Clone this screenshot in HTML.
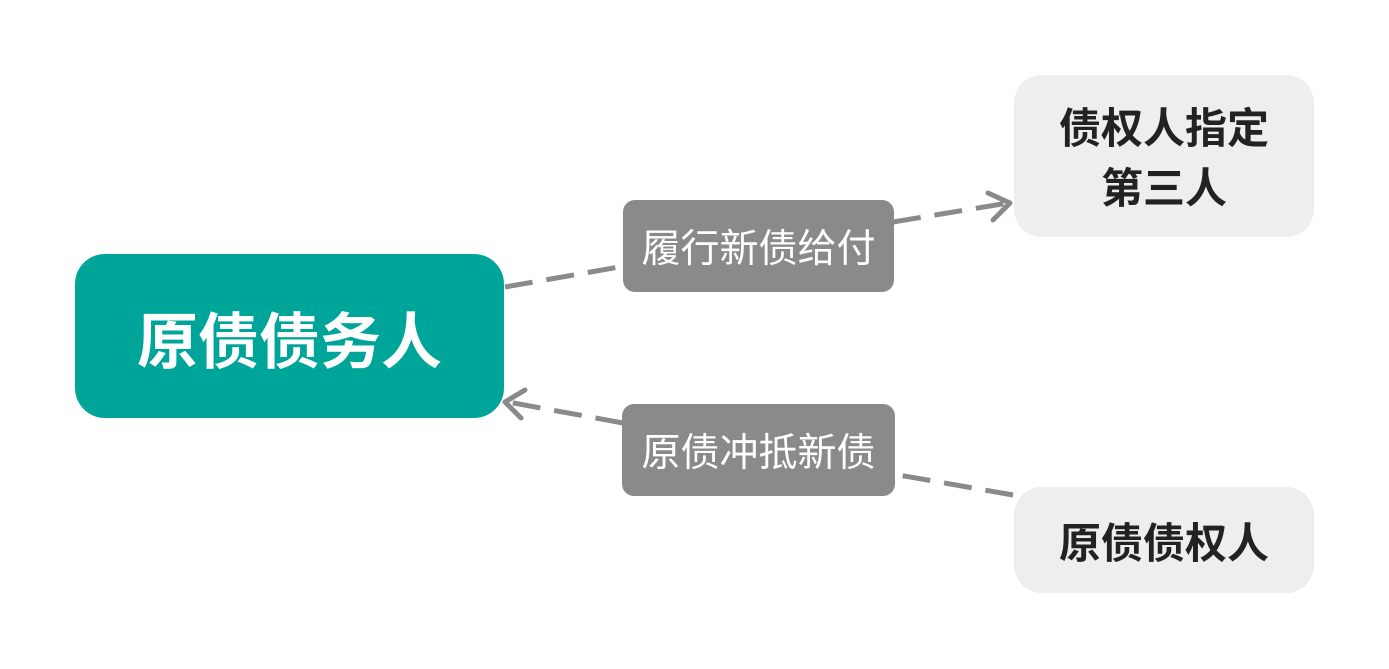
<!DOCTYPE html>
<html><head><meta charset="utf-8"><style>
body{margin:0;width:1389px;height:669px;background:#fff;position:relative;overflow:hidden;font-family:"Liberation Sans","Noto Sans CJK SC",sans-serif;}
.b{position:absolute;display:flex;align-items:center;justify-content:center;text-align:center;}
</style></head><body>
<svg width="1389" height="669" style="position:absolute;left:0;top:0">
<g stroke="#8a8a8a" stroke-width="5" fill="none" stroke-dasharray="28,14">
<line x1="505" y1="287" x2="625" y2="266"/>
<line x1="893" y1="222" x2="1008" y2="203"/>
<line x1="1013" y1="495" x2="893" y2="474"/>
<line x1="623" y1="423" x2="508" y2="402"/>
</g>
<g stroke="#8a8a8a" stroke-width="5" fill="none" stroke-linecap="round" stroke-linejoin="round">
<polyline points="988,193 1010,203 993,220"/>
<polyline points="525,390 505,402 521,418"/>
</g>
</svg>
<div class="b" style="left:75px;top:254px;width:429px;height:164px;background:#00a59a;border-radius:30px;color:#fff;font-size:61px;font-weight:bold">原债债务人</div>
<div class="b" style="left:623px;top:200px;width:271px;height:92px;background:#8a8a8a;border-radius:12px;color:#fff;font-size:39px">履行新债给付</div>
<div class="b" style="left:622px;top:404px;width:273px;height:92px;background:#8a8a8a;border-radius:12px;color:#fff;font-size:39px">原债冲抵新债</div>
<div class="b" style="left:1014px;top:75px;width:300px;height:162px;background:#eeeeee;border-radius:28px;color:#222;font-size:42px;font-weight:bold;line-height:60px"><div style="margin-top:6px">债权人指定<br>第三人</div></div>
<div class="b" style="left:1014px;top:487px;width:300px;height:106px;background:#eeeeee;border-radius:28px;color:#222;font-size:42px;font-weight:bold">原债债权人</div>
</body></html>
